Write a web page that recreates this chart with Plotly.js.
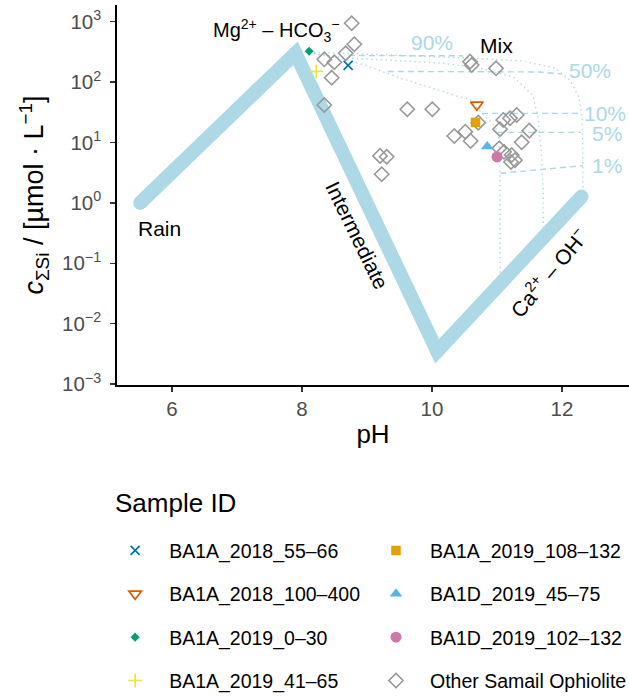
<!DOCTYPE html>
<html>
<head>
<meta charset="utf-8">
<script src="https://cdn.plot.ly/plotly-3.0.1.min.js"></script>
<style>html,body{margin:0;padding:0;background:#fff;}#chart{width:629px;height:696px;}</style>
</head>
<body>
<div id="chart"></div>
<script>
// ---- Reference framework line (Rain -> Mg-HCO3 -> Intermediate -> Ca-OH)
const frameworkPH = [5.51, 7.90, 10.08, 12.30];
const frameworkSi = [1.0, 300, 0.0035, 1.27];

// ---- Mixing curves (dotted)
const mixA_pH = [8.11, 8.89, 9.82, 10.54, 11.39, 11.89, 12.12, 12.26, 12.31, 12.32, 12.32];
const mixA_Si = [315, 292, 270, 251, 224, 171, 108, 56.6, 26.4, 7.5, 1.5];
const mixB_pH = [8.11, 8.69, 10.12, 10.74, 11.25, 11.55, 11.63, 11.68, 11.71, 11.71];
const mixB_Si = [303, 251, 207, 171, 121, 61, 26.4, 7.5, 1.64, 0.37];
const mixC_pH = [8.11, 8.74, 9.51, 10.38, 10.58, 10.77, 10.95, 11.02, 11.04, 11.05, 11.05];
const mixC_Si = [303, 232, 117, 58.9, 52, 30.3, 19.5, 14.7, 7.5, 1.12, 0.064];

// ---- Constant-fraction contours (dashed)
const frac90_pH = [8.72, 10.48];
const frac90_Si = [275, 272];
const frac50_pH = [9.32, 10.59, 11.66, 12.00];
const frac50_Si = [150, 150, 147, 136];
const frac10_pH = [10.77, 11.66, 12.29];
const frac10_Si = [30.3, 30.3, 30.3];
const frac5_pH = [11.02, 11.66, 12.29];
const frac5_Si = [14.7, 14.7, 14.7];
const frac1_pH = [11.05, 11.63, 12.32];
const frac1_Si = [3.09, 3.51, 4.13];

// ---- Samples
const s1_pH = [8.71]; const s1_Si = [189];   // BA1A_2018_55-66
const s2_pH = [10.69]; const s2_Si = [42];   // BA1A_2018_100-400
const s3_pH = [8.11]; const s3_Si = [324];   // BA1A_2019_0-30
const s4_pH = [8.22]; const s4_Si = [150];   // BA1A_2019_41-65
const s5_pH = [10.67]; const s5_Si = [21.5]; // BA1A_2019_108-132
const s6_pH = [10.85]; const s6_Si = [8.6];  // BA1D_2019_45-75
const s7_pH = [11.0]; const s7_Si = [5.76];  // BA1D_2019_102-132

const other_pH = [8.765, 8.805, 8.672, 8.343, 8.497, 8.457, 8.343, 9.62, 10.005, 10.585,
                  10.611, 10.985, 10.712, 10.343, 10.512, 10.595, 11.046, 11.097, 11.2, 11.303,
                  11.497, 11.38, 11.035, 11.108, 11.226, 11.277, 11.215, 9.2, 9.303, 9.226];
const other_Si = [942, 423, 300, 238, 213, 118, 41.8, 35.5, 35.5, 218,
                  192, 169, 21.3, 12.8, 15.1, 10.6, 16.6, 23.6, 25.2, 28.5,
                  15.7, 10.1, 8.0, 7.0, 6.2, 5.1, 4.75, 6.0, 5.8, 2.98];

const sampleNames = ['BA1A_2018_55–66','BA1A_2018_100–400','BA1A_2019_0–30','BA1A_2019_41–65',
                     'BA1A_2019_108–132','BA1D_2019_45–75','BA1D_2019_102–132','Other Samail Ophiolite'];

const yTickVals = [0.001, 0.01, 0.1, 1, 10, 100, 1000];
const yTickText = ['10<sup>−3</sup>','10<sup>−2</sup>','10<sup>−1</sup>','10<sup>0</sup>','10<sup>1</sup>','10<sup>2</sup>','10<sup>3</sup>'];
const xTickVals = [6, 8, 10, 12];

const LB = '#ADD8E6';
const dotDash = '1.4px,3.4px';
const dashDash = '6px,4px';

function line(x, y, dash, w) {
  return {x: x, y: y, type: 'scatter', mode: 'lines', showlegend: false, hoverinfo: 'skip',
          line: {color: LB, width: w || 1.4, dash: dash}};
}

const traces = [
  {x: frameworkPH, y: frameworkSi, type: 'scatter', mode: 'lines+markers', showlegend: false,
   line: {color: LB, width: 14}, marker: {color: LB, size: 14}},
  line(mixA_pH, mixA_Si, dotDash), line(mixB_pH, mixB_Si, dotDash), line(mixC_pH, mixC_Si, dotDash),
  line(frac90_pH, frac90_Si, dashDash), line(frac50_pH, frac50_Si, dashDash),
  line(frac10_pH, frac10_Si, dashDash), line(frac5_pH, frac5_Si, dashDash), line(frac1_pH, frac1_Si, dashDash),
];

function pts(x, y, name, legend, rank, marker) {
  return {x: x, y: y, name: name, type: 'scatter', mode: 'markers', legend: legend, legendgroup: 'g' + rank,
          legendrank: rank, marker: marker, cliponaxis: false};
}
traces.push(pts(other_pH, other_Si, sampleNames[7], 'legend2', 8,
  {symbol: 'diamond-open', size: 11, color: '#999999', line: {width: 1.6, color: '#999999'}}));
traces.push(pts(s1_pH, s1_Si, sampleNames[0], 'legend', 1,
  {symbol: 'x-thin-open', size: 9, color: '#0072B2', line: {width: 1.7, color: '#0072B2'}}));
traces.push(pts(s2_pH, s2_Si, sampleNames[1], 'legend', 2,
  {symbol: 'triangle-down-open', size: 11, color: '#D55E00', line: {width: 1.6, color: '#D55E00'}}));
traces.push(pts(s3_pH, s3_Si, sampleNames[2], 'legend', 3,
  {symbol: 'diamond', size: 7, color: '#009E73', line: {width: 0}}));
traces.push(pts(s4_pH, s4_Si, sampleNames[3], 'legend', 4,
  {symbol: 'cross-thin-open', size: 10, color: '#F0E442', line: {width: 1.7, color: '#F0E442'}}));
traces.push(pts(s5_pH, s5_Si, sampleNames[4], 'legend2', 5,
  {symbol: 'square', size: 9.5, color: '#E69F00', line: {width: 0}}));
traces.push(pts(s6_pH, s6_Si, sampleNames[5], 'legend2', 6,
  {symbol: 'triangle-up', size: 11, color: '#56B4E9', line: {width: 0}}));
traces.push(pts(s7_pH, s7_Si, sampleNames[6], 'legend2', 7,
  {symbol: 'circle', size: 11, color: '#CC79A7', line: {width: 0}}));

function ann(text, x, ly, opts) {
  return Object.assign({text: text, x: x, y: ly, xref: 'x', yref: 'y', showarrow: false,
    xanchor: 'center', yanchor: 'middle', font: {size: 21, color: '#000'}}, opts || {});
}
const pctFont = {size: 21, color: LB};
const annotations = [
  ann('Rain', 5.815, -0.416),
  ann('Mg<sup>2+</sup> – HCO<sub>3</sub><sup>−</sup>', 7.60, 2.846, {font: {size: 20, color: '#000'}}),
  ann('Mix', 11.0, 2.598),
  ann('Intermediate', 8.846, -0.548, {textangle: 64}),
  ann('Ca<sup>2+</sup> – OH<sup>−</sup>', 11.80, -1.15, {textangle: -50}),
  ann('90%', 10.0, 2.647, {font: pctFont}),
  ann('50%', 12.431, 2.184, {font: pctFont}),
  ann('10%', 12.662, 1.488, {font: pctFont}),
  ann('5%', 12.692, 1.141, {font: pctFont}),
  ann('1%', 12.692, 0.627, {font: pctFont}),
  {text: 'Sample ID', xref: 'paper', yref: 'paper', x: -0.008, y: -0.31, xanchor: 'left', yanchor: 'middle',
   showarrow: false, font: {size: 26, color: '#000'}}
];

const legendCommon = {orientation: 'v', yanchor: 'top', xanchor: 'left', bgcolor: 'rgba(0,0,0,0)',
  font: {size: 19.5, color: '#000'}, itemwidth: 58, tracegroupgap: 15, traceorder: 'grouped'};

const layout = {
  width: 629, height: 696,
  margin: {l: 117, r: 0, t: 5, b: 311, autoexpand: false},
  paper_bgcolor: '#fff', plot_bgcolor: '#fff',
  font: {family: 'Liberation Sans, Arial, sans-serif', color: '#000'},
  xaxis: {range: [5.154, 13.031], tickvals: xTickVals, ticks: 'outside', ticklen: 5, tickwidth: 1.3,
          tickcolor: '#333', showline: true, linecolor: '#000', linewidth: 1.7, showgrid: false, zeroline: false,
          tickfont: {size: 20.5, color: '#4D4D4D'}, title: {text: 'pH', font: {size: 26}, standoff: 5}},
  yaxis: {type: 'log', range: [-3.015, 3.276], tickvals: yTickVals, ticktext: yTickText, ticks: 'outside',
          ticklen: 5, tickwidth: 1.3, tickcolor: '#333', showline: true, linecolor: '#000', linewidth: 1.7,
          showgrid: false, zeroline: false, tickfont: {size: 20.5, color: '#4D4D4D'}, ticklabelstandoff: 5,
          title: {text: '<i>c</i><sub>ΣSi</sub> / [µmol · L<sup>−1</sup>]', font: {size: 27}, standoff: 10}},
  legend: Object.assign({x: -0.031, y: -0.385}, legendCommon),
  legend2: Object.assign({x: 0.4785, y: -0.385}, legendCommon),
  annotations: annotations,
  showlegend: true
};

Plotly.newPlot('chart', traces, layout, {displayModeBar: false, staticPlot: true});
</script>
</body>
</html>
